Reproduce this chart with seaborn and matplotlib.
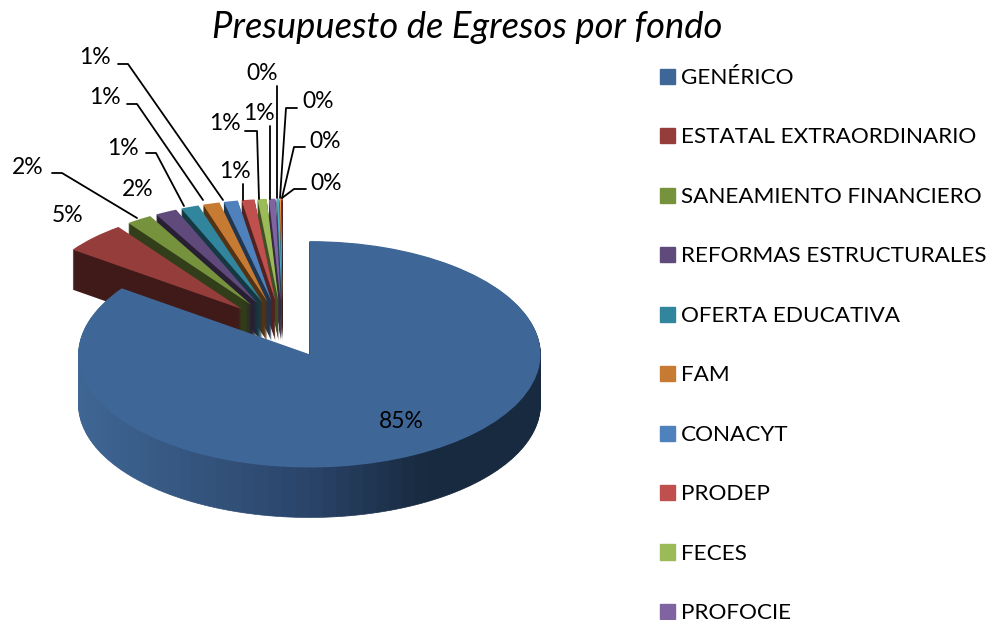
import numpy as np
import matplotlib
matplotlib.use("Agg")
import matplotlib.pyplot as plt
from matplotlib.colors import LinearSegmentedColormap, to_rgb
from matplotlib.patches import Patch
import seaborn as sns

fondos = ["GENÉRICO", "ESTATAL EXTRAORDINARIO", "SANEAMIENTO FINANCIERO",
          "REFORMAS ESTRUCTURALES", "OFERTA EDUCATIVA", "FAM", "CONACYT",
          "PRODEP", "FECES", "PROFOCIE"]
valores = [84.9, 5.0, 2.0, 1.7, 1.4, 1.3, 1.1, 1.0, 0.7, 0.5, 0.2, 0.1, 0.05, 0.05]
etiquetas = ["85%", "5%", "2%", "2%", "1%", "1%", "1%", "1%", "1%", "1%", "0%", "0%", "0%", "0%"]
colores = ["#3e6797", "#953d3b", "#76923c", "#604a7b", "#31859c", "#c77a32", "#4f81bd",
           "#c0504d", "#9bbb59", "#8064a2", "#4bacc6", "#f79646", "#2c4d75", "#772c2a"]

# posicion de cada etiqueta en pixeles
pos_etiquetas = [(401, 422), (68, 216), (28, 168), (138, 189), (123, 148), (105, 97), (95, 58),
                 (235, 171), (225, 124), (259, 113), (262, 73), (318, 101), (325, 141), (326, 183)]
guias = [[(52, 173), (62, 173), (137, 218)],
         [(146, 153), (156, 153), (184, 206)],
         [(127, 104), (137, 104), (203, 200)],
         [(118, 64), (128, 64), (223, 200)],
         [(243, 184), (243, 200)],
         [(245, 131), (257, 131), (259, 199)],
         [(270, 126), (270, 199)],
         [(277, 86), (277, 198)],
         [(297, 108), (286, 108), (280, 198)],
         [(305, 147), (294, 147), (282, 198)],
         [(306, 189), (294, 189), (282, 198)]]

W, H = 994, 620
APLASTE = 0.49
CX, CY = 283, 329
R_GRANDE, R_CHICO = 231, 208
EXPLOSION = 58
ALTO_GRANDE, ALTO_CHICO = 50, 40

sns.set_theme(style="white")
plt.rcParams["font.family"] = ["Lato", "DejaVu Sans"]

fig = plt.figure(figsize=(W / 100, H / 100), dpi=100)
ax = fig.add_axes([0, 0, 1, 1])


def oscuro(color, f):
    return tuple(c * f for c in to_rgb(color))


def px(x, y):
    return x / W, 1 - y / H


resto = sum(valores[1:])
explode = [0] + [EXPLOSION] * (len(valores) - 1)
sin_borde = {"linewidth": 0}

# primero las rebanadas chicas, de abajo hacia arriba
for dz in range(ALTO_CHICO, -1, -1):
    cols = colores if dz == 0 else [oscuro(c, 0.42) for c in colores]
    w, _ = ax.pie(valores, explode=explode, center=(CX, -dz / APLASTE), radius=R_CHICO,
                  startangle=90, counterclock=False, colors=cols, wedgeprops=sin_borde)
    w[0].set_visible(False)

# la rebanada grande se separa sobre su bisectriz
ang = np.deg2rad(valores[0] / sum(valores) * 180)
bx = CX + EXPLOSION * np.sin(ang)
by = EXPLOSION * np.cos(ang)

# costado con degradado de izquierda a derecha
cmap = LinearSegmentedColormap.from_list(
    "lado", [(0, "#3f6694"), (0.5, "#2a4469"), (0.75, "#182a40"), (1, "#182a40")])
n_bandas = 90
bandas = [valores[0] / n_bandas] * n_bandas + [resto]
medios = (np.arange(n_bandas) + 0.5) / n_bandas * 2 * ang
cols_lado = [cmap((np.sin(m) + 1) / 2) for m in medios] + ["none"]
for dz in range(ALTO_GRANDE, 0, -1):
    w, _ = ax.pie(bandas, center=(bx, by - dz / APLASTE), radius=R_GRANDE,
                  startangle=90, counterclock=False, colors=cols_lado, wedgeprops=sin_borde)
    for p, c in zip(w[:-1], cols_lado):
        p.set_edgecolor(c)
        p.set_linewidth(0.5)

ax.pie([valores[0], resto], center=(bx, by), radius=R_GRANDE, startangle=90,
       counterclock=False, colors=[colores[0], "none"], wedgeprops=sin_borde)

ax.set_aspect("auto")
ax.set_xlim(0, W)
ax.set_ylim((CY - H) / APLASTE, CY / APLASTE)

for g in guias:
    xs, ys = zip(*[px(*p) for p in g])
    ax.plot(xs, ys, color="black", lw=1.3, transform=ax.transAxes)

for txt, (x, y) in zip(etiquetas, pos_etiquetas):
    ax.text(*px(x, y), txt, transform=ax.transAxes, ha="center", va="center",
            fontsize=16.5, color="black")

ax.text(*px(467, 27), "Presupuesto de Egresos por fondo", transform=ax.transAxes,
        ha="center", va="center", fontsize=26.2, style="italic", color="black")

handles = [Patch(color=c) for c in colores[:len(fondos)]]
ax.legend(handles, fondos, loc="upper left", bbox_to_anchor=px(651, 59), frameon=False,
          fontsize=16.2, labelspacing=1.755, handlelength=0.65, handleheight=0.65,
          handletextpad=0.3, borderaxespad=0, borderpad=0.4, labelcolor="black")

fig.savefig("out.png", dpi=100)
